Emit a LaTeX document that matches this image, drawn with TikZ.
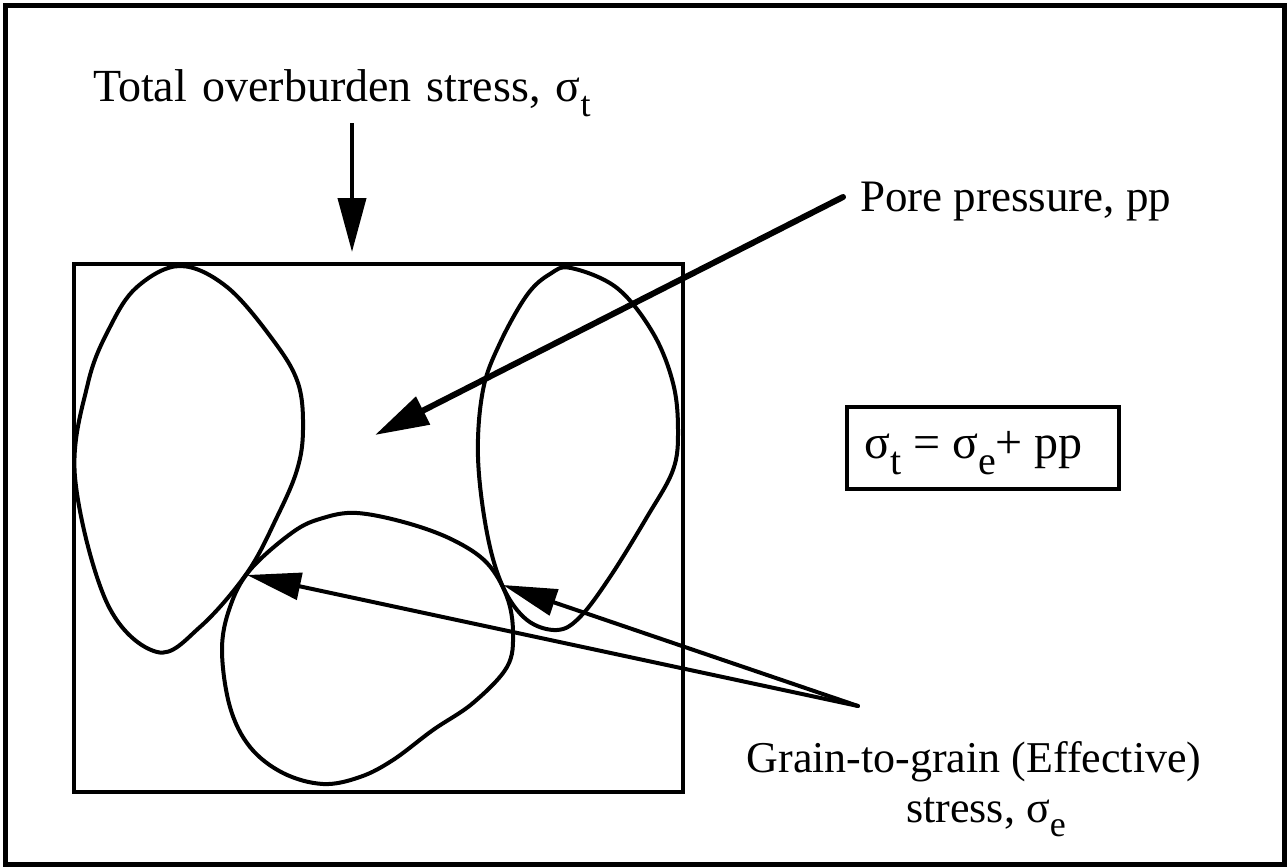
\documentclass[tikz,border=0pt]{standalone}
\usepackage{fontspec}
\setmainfont{Liberation Serif}
\usetikzlibrary{arrows.meta}
\newcommand{\lowsub}[1]{\raisebox{-0.32em}{\fontsize{36}{36}\selectfont #1}}
\newcommand{\eqsub}[1]{\raisebox{-0.34em}{\fontsize{40}{40}\selectfont #1}}
\newcommand{\widespaces}{\spaceskip=0.33em plus 0.1em\relax}
\begin{document}
\begin{tikzpicture}[x=1pt,y=-1pt,
  lbl/.style={font=\fontsize{44}{50}\selectfont, inner sep=0pt},
  grain/.style={line width=4pt, line join=round},
  boxline/.style={draw, line width=4pt, inner sep=0pt, anchor=north west},
]
\useasboundingbox (0,0) rectangle (1288,867);
% outer frame
\draw[line width=5pt] (5,6) rectangle (1284,864);
% inner box
\node[boxline, minimum width=609pt, minimum height=528pt] (box) at (72,262) {};

% grains
\draw[grain] plot[smooth cycle, tension=0.6] coordinates {
  (180,266) (227,287) (273,340) (298,383) (303,430) (297,470) (277,517)
  (247,573) (200,627) (157,652) (107,603) (75,477) (88,383) (110,327) (137,287)};
\draw[grain] plot[smooth cycle, tension=0.6] coordinates {
  (571,268) (617,288) (653,333) (673,383) (678,430) (673,470) (647,517)
  (610,577) (580,617) (557,630) (527,620) (503,587) (487,533) (478,457)
  (483,390) (500,343) (527,295) (550,274)};
\draw[grain] plot[smooth cycle, tension=0.6] coordinates {
  (357,513) (407,523) (453,540) (487,563) (507,597) (513,633) (507,667)
  (473,703) (433,730) (393,760) (360,777) (323,784) (283,773) (250,747)
  (230,707) (222,650) (230,607) (250,570) (293,532) (323,518)};

% labels
\node[lbl, font=\fontsize{46}{52}\selectfont, anchor=base west] (tot) at (93,102) {\widespaces Total overburden stress, σ\lowsub{t}};
\node[lbl, font=\fontsize{45}{52}\selectfont, anchor=base west] (pore) at (860,211) {Pore pressure, pp};
\node[boxline, minimum width=272pt, minimum height=82pt] (eqbox) at (845,405) {};
\node[lbl, font=\fontsize{48}{54}\selectfont, anchor=base west] (eq) at (864,458) {σ\eqsub{t} = σ\eqsub{e}+ pp};
\node[lbl, anchor=base] (grainlbl) at (974,772) {Grain-to-grain (Effective)};
\node[lbl, anchor=base] (stresslbl) at (986,822) {stress, σ\lowsub{e}};

% arrow ends
\coordinate (totTail) at (352,123);
\coordinate (totTip) at (352,252);
\coordinate (poreTail) at (843,197);
\coordinate (poreTip) at (375,435);
\coordinate (grTail) at (858,706);
\coordinate (grTipA) at (247,575);
\coordinate (grTipB) at (503,585);

\draw[line width=4pt, -{Triangle[length=54pt,width=28pt]}] (totTail) -- (totTip);
\draw[line width=6pt, line cap=round, -{Triangle[length=54pt,width=30pt]}] (poreTail) -- (poreTip);
\draw[line width=4pt, line cap=round, -{Triangle[length=54pt,width=27pt]}] (grTail) -- (grTipA);
\draw[line width=4pt, line cap=round, -{Triangle[length=54pt,width=27pt]}] (grTail) -- (grTipB);
\end{tikzpicture}
\end{document}
